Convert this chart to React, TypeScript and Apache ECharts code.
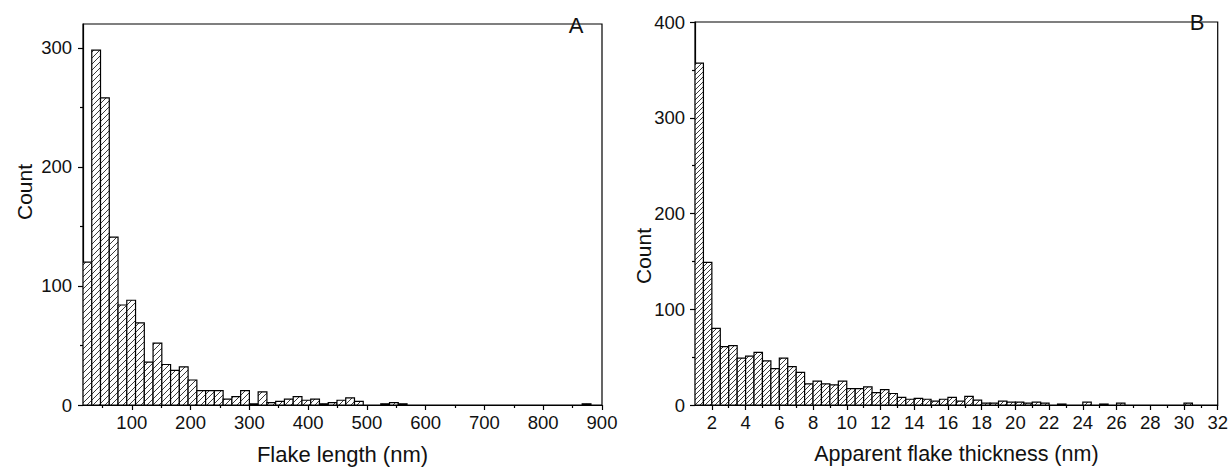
import React, { useEffect, useRef } from "react";
import * as echarts from "echarts";

// ---- Panel A: flake length histogram ----
const lengthBinStart = 17;
const lengthBinWidth = 14.9;
const lengthCounts = [
  120, 298, 258, 141, 84, 88, 69, 36, 52, 34,
  29, 32, 21, 12, 12, 12, 5, 7, 12, 1,
  11, 2, 3, 5, 7, 4, 5, 1, 2, 4,
  6, 3, 0, 0, 1, 2, 1, 0, 0, 0,
  0, 0, 0, 0, 0, 0, 0, 0, 0, 0,
  0, 0, 0, 0, 0, 0, 0, 1,
];
const lengthXTicks = [100, 200, 300, 400, 500, 600, 700, 800, 900];
const lengthXMinor = [50, 150, 250, 350, 450, 550, 650, 750, 850];
const lengthYTicks = [0, 100, 200, 300];
const lengthYMinor = [50, 150, 250];

// ---- Panel B: apparent flake thickness histogram ----
const thickBinStart = 1;
const thickBinWidth = 0.5;
const thickCounts = [
  357, 149, 80, 61, 62, 49, 51, 55, 46, 38,
  49, 40, 34, 22, 25, 22, 21, 25, 17, 17,
  19, 13, 16, 12, 8, 6, 7, 6, 4, 6,
  8, 4, 9, 5, 2, 2, 4, 3, 3, 2,
  3, 2, 0, 1, 0, 0, 3, 0, 1, 0,
  2, 0, 0, 0, 0, 0, 0, 0, 2, 0,
  0, 0,
];
const thickXTicks = [2, 4, 6, 8, 10, 12, 14, 16, 18, 20, 22, 24, 26, 28, 30, 32];
const thickXMinor = [3, 5, 7, 9, 11, 13, 15, 17, 19, 21, 23, 25, 27, 29, 31];
const thickYTicks = [0, 100, 200, 300, 400];
const thickYMinor = [50, 150, 250, 350];

const FONT = "Liberation Sans, Arial, Helvetica, sans-serif";
const TICK_FONT = 18.5;

function toBins(start: number, width: number, counts: number[]) {
  return counts.map((c, i) => [start + i * width, start + (i + 1) * width, c]);
}

function hatchRenderer(spacing: number) {
  return (params: any, api: any) => {
    const x0 = api.value(0);
    const x1 = api.value(1);
    const v = api.value(2);
    if (!v) return null;
    const p0 = api.coord([x0, 0]);
    const p1 = api.coord([x1, v]);
    const left = p0[0];
    const right = p1[0];
    const bottom = p0[1];
    const top = p1[1];
    const children: any[] = [];
    children.push({
      type: "rect",
      shape: { x: left, y: top, width: right - left, height: bottom - top },
      style: { fill: "#fff", stroke: null },
    });
    const cMin = left + top;
    const cMax = right + bottom;
    for (let c = Math.ceil(cMin / spacing) * spacing; c <= cMax; c += spacing) {
      const xa = Math.max(left, c - bottom);
      const xb = Math.min(right, c - top);
      if (xb - xa < 0.4) continue;
      children.push({
        type: "line",
        shape: { x1: xa, y1: c - xa, x2: xb, y2: c - xb },
        style: { stroke: "#222", lineWidth: 0.9 },
      });
    }
    children.push({
      type: "rect",
      shape: { x: left, y: top, width: right - left, height: bottom - top },
      style: { fill: "none", stroke: "#000", lineWidth: 1.2 },
    });
    return { type: "group", children };
  };
}

function mainX(gridIndex: number, min: number, max: number, ticks: number[], name: string, nameSize: number) {
  return {
    gridIndex,
    type: "value",
    min,
    max,
    name,
    nameLocation: "middle",
    nameGap: 38,
    nameTextStyle: { fontFamily: FONT, fontSize: nameSize, color: "#111" },
    axisLine: { show: true, lineStyle: { color: "#000", width: 1.2 } },
    axisTick: { show: true, customValues: ticks, length: 5, lineStyle: { color: "#000", width: 1.2 } },
    axisLabel: { show: true, customValues: ticks, fontFamily: FONT, fontSize: TICK_FONT, color: "#111", margin: 8 },
    splitLine: { show: false },
  };
}

function minorX(gridIndex: number, min: number, max: number, ticks: number[]) {
  return {
    gridIndex,
    type: "value",
    min,
    max,
    position: "bottom",
    axisLine: { show: false },
    axisTick: { show: true, customValues: ticks, length: 3, lineStyle: { color: "#000", width: 1.2 } },
    axisLabel: { show: false },
    splitLine: { show: false },
  };
}

function mainY(gridIndex: number, min: number, max: number, ticks: number[], margin: number) {
  return {
    gridIndex,
    type: "value",
    min,
    max,
    axisLine: { show: true, lineStyle: { color: "#000", width: 1.2 } },
    axisTick: { show: true, customValues: ticks, length: 5, lineStyle: { color: "#000", width: 1.2 } },
    axisLabel: { show: true, customValues: ticks, fontFamily: FONT, fontSize: TICK_FONT, color: "#111", margin },
    splitLine: { show: false },
  };
}

function minorY(gridIndex: number, min: number, max: number, ticks: number[]) {
  return {
    gridIndex,
    type: "value",
    min,
    max,
    position: "left",
    axisLine: { show: false },
    axisTick: { show: true, customValues: ticks, length: 3, lineStyle: { color: "#000", width: 1.2 } },
    axisLabel: { show: false },
    splitLine: { show: false },
  };
}

export default function App() {
  const ref = useRef<HTMLDivElement>(null);
  useEffect(() => {
    if (!ref.current) return;
    const chart = echarts.init(ref.current, undefined, { renderer: "svg" });
    const lenMax = 320;
    const thkMax = 400;
    chart.setOption({
      animation: false,
      backgroundColor: "#fff",
      grid: [
        { left: 83, top: 24, width: 519, height: 386, show: true, borderColor: "#000", borderWidth: 1.2, backgroundColor: "transparent" },
        { left: 695, top: 22, width: 524, height: 390, show: true, borderColor: "#000", borderWidth: 1.2, backgroundColor: "transparent" },
      ],
      xAxis: [
        mainX(0, lengthBinStart, 900, lengthXTicks, "Flake length (nm)", 22),
        mainX(1, thickBinStart, 32, thickXTicks, "Apparent flake thickness (nm)", 21.5),
        minorX(0, lengthBinStart, 900, lengthXMinor),
        minorX(1, thickBinStart, 32, thickXMinor),
      ],
      yAxis: [
        mainY(0, 0, lenMax, lengthYTicks, 11),
        mainY(1, 0, thkMax, thickYTicks, 10),
        minorY(0, 0, lenMax, lengthYMinor),
        minorY(1, 0, thkMax, thickYMinor),
      ],
      graphic: [
        { type: "text", x: 24, y: 192, rotation: Math.PI / 2, style: { text: "Count", fontFamily: FONT, fontSize: 21, fill: "#111", textAlign: "center", textVerticalAlign: "middle" } },
        { type: "text", x: 643, y: 256, rotation: Math.PI / 2, style: { text: "Count", fontFamily: FONT, fontSize: 21, fill: "#111", textAlign: "center", textVerticalAlign: "middle" } },
        { type: "text", x: 576, y: 25, style: { text: "A", fontFamily: FONT, fontSize: 22, fill: "#111", textAlign: "center", textVerticalAlign: "middle" } },
        { type: "text", x: 1197, y: 22, style: { text: "B", fontFamily: FONT, fontSize: 22, fill: "#111", textAlign: "center", textVerticalAlign: "middle" } },
      ],
      series: [
        {
          type: "custom",
          xAxisIndex: 0,
          yAxisIndex: 0,
          renderItem: hatchRenderer(6),
          encode: { x: [0, 1], y: 2 },
          data: toBins(lengthBinStart, lengthBinWidth, lengthCounts),
          clip: true,
        },
        {
          type: "custom",
          xAxisIndex: 1,
          yAxisIndex: 1,
          renderItem: hatchRenderer(5),
          encode: { x: [0, 1], y: 2 },
          data: toBins(thickBinStart, thickBinWidth, thickCounts),
          clip: true,
        },
      ],
    });
    return () => chart.dispose();
  }, []);
  return (
    <div
      ref={ref}
      style={{ position: "fixed", left: 0, top: 0, width: 1231, height: 470, background: "#fff" }}
    />
  );
}
